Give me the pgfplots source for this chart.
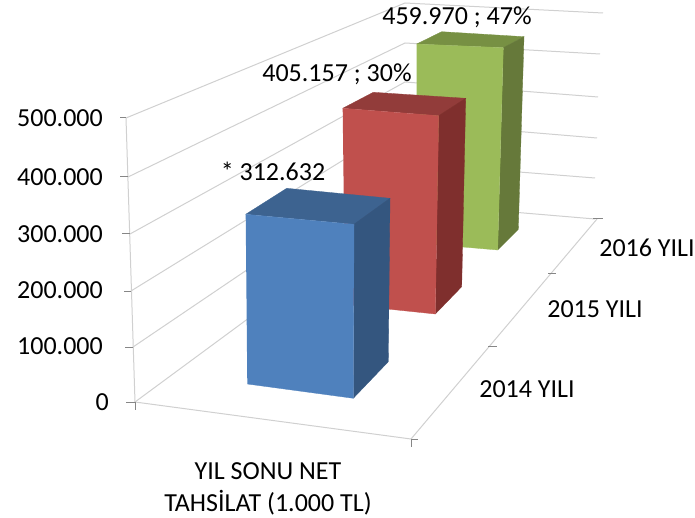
\documentclass[border=0pt]{standalone}
\usepackage{fontspec}
\setmainfont{Carlito}
\usepackage{pgfplots}
\pgfplotsset{compat=1.18}
\definecolor{gridc}{HTML}{D0D0D0}
\definecolor{tickc}{HTML}{868686}
\definecolor{bluef}{HTML}{4F81BD}
\definecolor{bluet}{HTML}{3D6390}
\definecolor{blues}{HTML}{34567F}
\definecolor{redf}{HTML}{C0504D}
\definecolor{redt}{HTML}{923C3A}
\definecolor{reds}{HTML}{7F2F2D}
\definecolor{greenf}{HTML}{9BBB59}
\definecolor{greent}{HTML}{779043}
\definecolor{greens}{HTML}{66793A}
\pgfplotsset{
  grd/.style={gridc,line width=1pt,mark=none,forget plot},
  tck/.style={tickc,line width=1pt,mark=none,forget plot},
  face/.style={fill=#1,draw=#1,line width=0.3pt,mark=none,forget plot},
}
\tikzset{lbl/.style={font=\fontsize{26}{30}\selectfont,text=black,inner sep=0pt}}
\begin{document}
\begin{tikzpicture}
\begin{axis}[
  scale only axis,width=695pt,height=518pt,
  xmin=0,xmax=695,ymin=0,ymax=518,y dir=reverse,
  hide axis,clip=false,
]
\path (axis cs:0,0) rectangle (axis cs:695,518);
% walls: left wall to the back corner, then right wall
\addplot[grd] coordinates {(126,118) (405,3) (603,13)};
\addplot[grd] coordinates {(128,177) (405,43) (600,54)};
\addplot[grd] coordinates {(130,234) (405,82) (598,97)};
\addplot[grd] coordinates {(131,291) (405,122) (597,138)};
\addplot[grd] coordinates {(133,347) (405,163) (595,178)};
\addplot[grd] coordinates {(135,402) (405,203) (595,219)};
% floor and vertical axis
\addplot[grd] coordinates {(126,118) (135,402) (411,439) (597,219)};
% ticks
\addplot[tck] coordinates {(120,118) (126,118)};
\addplot[tck] coordinates {(120,177) (128,177)};
\addplot[tck] coordinates {(122,234) (130,234)};
\addplot[tck] coordinates {(124,291) (131,291)};
\addplot[tck] coordinates {(125,347) (133,347)};
\addplot[tck] coordinates {(126,402) (135,402)};
\addplot[tck] coordinates {(135,402) (135,410)};
\addplot[tck] coordinates {(411,439) (418,439)};
\addplot[tck] coordinates {(411,439) (411,447)};
\addplot[tck] coordinates {(488,346) (497,346)};
\addplot[tck] coordinates {(548,274) (556,274)};
\addplot[tck] coordinates {(593,219) (603,219)};
% 2016 bar
\addplot[face=greent] coordinates {(416.7,44) (441.7,31.7) (524,36.7) (503.3,47.7)};
\addplot[face=greens] coordinates {(503.3,47.7) (524,36.7) (518.3,229.3) (497.7,250)};
\addplot[face=greenf] coordinates {(416.7,44) (503.3,47.7) (497.7,250) (416,243)};
% 2015 bar
\addplot[face=redt] coordinates {(342.7,108.3) (373.3,92.3) (465.7,98.3) (438.7,115.7)};
\addplot[face=reds] coordinates {(438.7,115.7) (465.7,98.3) (461.7,286.7) (435.3,314)};
\addplot[face=redf] coordinates {(342.7,108.3) (438.7,115.7) (435.3,314) (345,304.6)};
% 2014 bar
\addplot[face=bluet] coordinates {(245.7,214.3) (286.7,188.3) (390,198.3) (354,224.3)};
\addplot[face=blues] coordinates {(354,224.3) (390,198.3) (388.3,361.7) (353.3,398.3)};
\addplot[face=bluef] coordinates {(245.7,214.3) (354,224.3) (353.3,398.3) (247.3,384)};
% tick labels
\node[lbl,anchor=east] at (axis cs:103,118) {500.000};
\node[lbl,anchor=east] at (axis cs:103,177) {400.000};
\node[lbl,anchor=east] at (axis cs:103,234) {300.000};
\node[lbl,anchor=east] at (axis cs:103,290) {200.000};
\node[lbl,anchor=east] at (axis cs:103,346) {100.000};
\node[lbl,anchor=east] at (axis cs:109,402) {0};
\node[lbl] at (axis cs:647,248) {2016 YILI};
\node[lbl] at (axis cs:595,309) {2015 YILI};
\node[lbl] at (axis cs:527,389) {2014 YILI};
\node[lbl] at (axis cs:268,471) {YIL SONU NET};
\node[lbl] at (axis cs:268,503) {TAHSİLAT (1.000 TL)};
% data labels
\node[lbl] at (axis cs:273,171) {* 312.632};
\node[lbl] at (axis cs:337,74) {405.157 ; 30\%};
\node[lbl] at (axis cs:457,17) {459.970 ; 47\%};
\end{axis}
\end{tikzpicture}
\end{document}
